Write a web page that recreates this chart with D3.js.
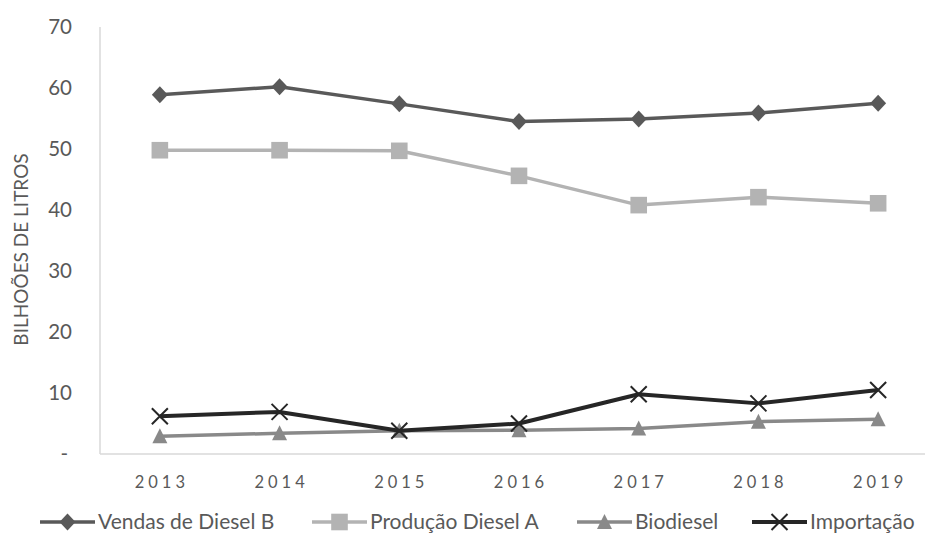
<!DOCTYPE html>
<html>
<head>
<meta charset="utf-8">
<script src="https://cdn.jsdelivr.net/npm/d3@7"></script>
<style>
  html, body { margin: 0; padding: 0; background: #fff; }
  svg { display: block; font-family: Lato, "Open Sans", sans-serif; }
</style>
</head>
<body>
<svg id="chart" width="925" height="534"></svg>
<script>
// Diesel supply in Brazil, billions of litres
const years = ["2013", "2014", "2015", "2016", "2017", "2018", "2019"];
const vendasDieselB = [58.9, 60.2, 57.4, 54.5, 54.9, 55.9, 57.5];
const producaoDieselA = [49.8, 49.8, 49.7, 45.6, 40.8, 42.1, 41.1];
const biodiesel = [2.9, 3.4, 3.8, 3.9, 4.2, 5.3, 5.7];
const importacao = [6.2, 6.9, 3.8, 5.0, 9.8, 8.3, 10.5];
const yTicks = [0, 10, 20, 30, 40, 50, 60, 70];
const seriesNames = ["Vendas de Diesel B", "Produção Diesel A", "Biodiesel", "Importação"];
const yTitle = "BILHOÕES DE LITROS";

const series = [
  { name: seriesNames[0], values: vendasDieselB, color: "#595959", marker: "diamond", width: 3.5 },
  { name: seriesNames[1], values: producaoDieselA, color: "#b3b3b3", marker: "square", width: 3.5 },
  { name: seriesNames[2], values: biodiesel, color: "#898989", marker: "triangle", width: 3.5 },
  { name: seriesNames[3], values: importacao, color: "#262626", marker: "cross", width: 4 }
];

const svg = d3.select("#chart");
const plot = { left: 100, right: 938, top: 27, bottom: 454 };

const x = d3.scaleBand().domain(years).range([plot.left, plot.right]).padding(0);
const y = d3.scaleLinear().domain([0, 70]).range([plot.bottom, plot.top]);
const cx = d => x(d) + x.bandwidth() / 2;

// Axis lines
svg.append("line")
  .attr("x1", plot.left).attr("x2", plot.left)
  .attr("y1", plot.top).attr("y2", plot.bottom)
  .attr("stroke", "#d9d9d9").attr("stroke-width", 1.5);
svg.append("line")
  .attr("x1", plot.left).attr("x2", 925)
  .attr("y1", plot.bottom).attr("y2", plot.bottom)
  .attr("stroke", "#d9d9d9").attr("stroke-width", 1.5);

// Y tick labels
const yAxis = d3.axisLeft(y).tickValues(yTicks).tickSize(0)
  .tickFormat(d => d === 0 ? "-" : d3.format("d")(d));
const gy = svg.append("g").attr("transform", `translate(${plot.left - 28},0)`).call(yAxis);
gy.select(".domain").remove();
gy.selectAll("text")
  .attr("x", 0)
  .attr("fill", "#595959")
  .style("font-size", "20.5px")
  .style("font-family", "Lato, sans-serif");
gy.selectAll(".tick").filter(d => d === 0).select("text").attr("x", -4);

// X tick labels
const xAxis = d3.axisBottom(x).tickSize(0);
const gx = svg.append("g").attr("transform", `translate(0,${plot.bottom})`).call(xAxis);
gx.select(".domain").remove();
gx.selectAll("text")
  .attr("y", 22)
  .attr("dx", "2px")
  .attr("fill", "#595959")
  .style("font-size", "16.5px")
  .style("letter-spacing", "4px")
  .style("font-family", "Lato, sans-serif");

// Y axis title
svg.append("text")
  .attr("transform", `translate(28,${(plot.top + plot.bottom) / 2 + 9}) rotate(-90)`)
  .attr("text-anchor", "middle")
  .attr("fill", "#595959")
  .style("font-size", "19px")
  .text(yTitle);

// Marker shapes
function drawMarker(g, type, color) {
  if (type === "diamond") {
    g.append("path").attr("d", "M0,-8.5L8,0L0,8.5L-8,0Z").attr("fill", color);
  } else if (type === "square") {
    g.append("rect").attr("x", -8.3).attr("y", -8.3).attr("width", 16.6).attr("height", 16.6)
      .attr("fill", color);
  } else if (type === "triangle") {
    g.append("path").attr("d", "M0,-8L7.5,7L-7.5,7Z").attr("fill", color);
  } else if (type === "cross") {
    g.append("path").attr("d", "M-8,-8L8,8M-8,8L8,-8")
      .attr("stroke", color).attr("stroke-width", 2).attr("fill", "none");
  }
}

const line = d3.line().x(d => cx(d.year)).y(d => y(d.value));

series.forEach(s => {
  const pts = years.map((yr, i) => ({ year: yr, value: s.values[i] }));
  svg.append("path")
    .datum(pts)
    .attr("d", line)
    .attr("fill", "none")
    .attr("stroke", s.color)
    .attr("stroke-width", s.width)
    .attr("stroke-linejoin", "round");
  pts.forEach(p => {
    const g = svg.append("g").attr("transform", `translate(${cx(p.year)},${y(p.value)})`);
    drawMarker(g, s.marker, s.color);
  });
});

// Legend
const legendY = 522;
const legendX = [40, 312, 577, 752];
series.forEach((s, i) => {
  const g = svg.append("g").attr("transform", `translate(${legendX[i]},${legendY})`);
  g.append("line").attr("x1", 0).attr("x2", 55).attr("y1", 0).attr("y2", 0)
    .attr("stroke", s.color).attr("stroke-width", s.width);
  const m = g.append("g").attr("transform", "translate(27.5,0)");
  drawMarker(m, s.marker, s.color);
  g.append("text")
    .attr("x", 58).attr("y", 0).attr("dy", "0.35em")
    .attr("fill", "#595959")
    .style("font-size", "21px")
    .text(s.name);
});
</script>
</body>
</html>
